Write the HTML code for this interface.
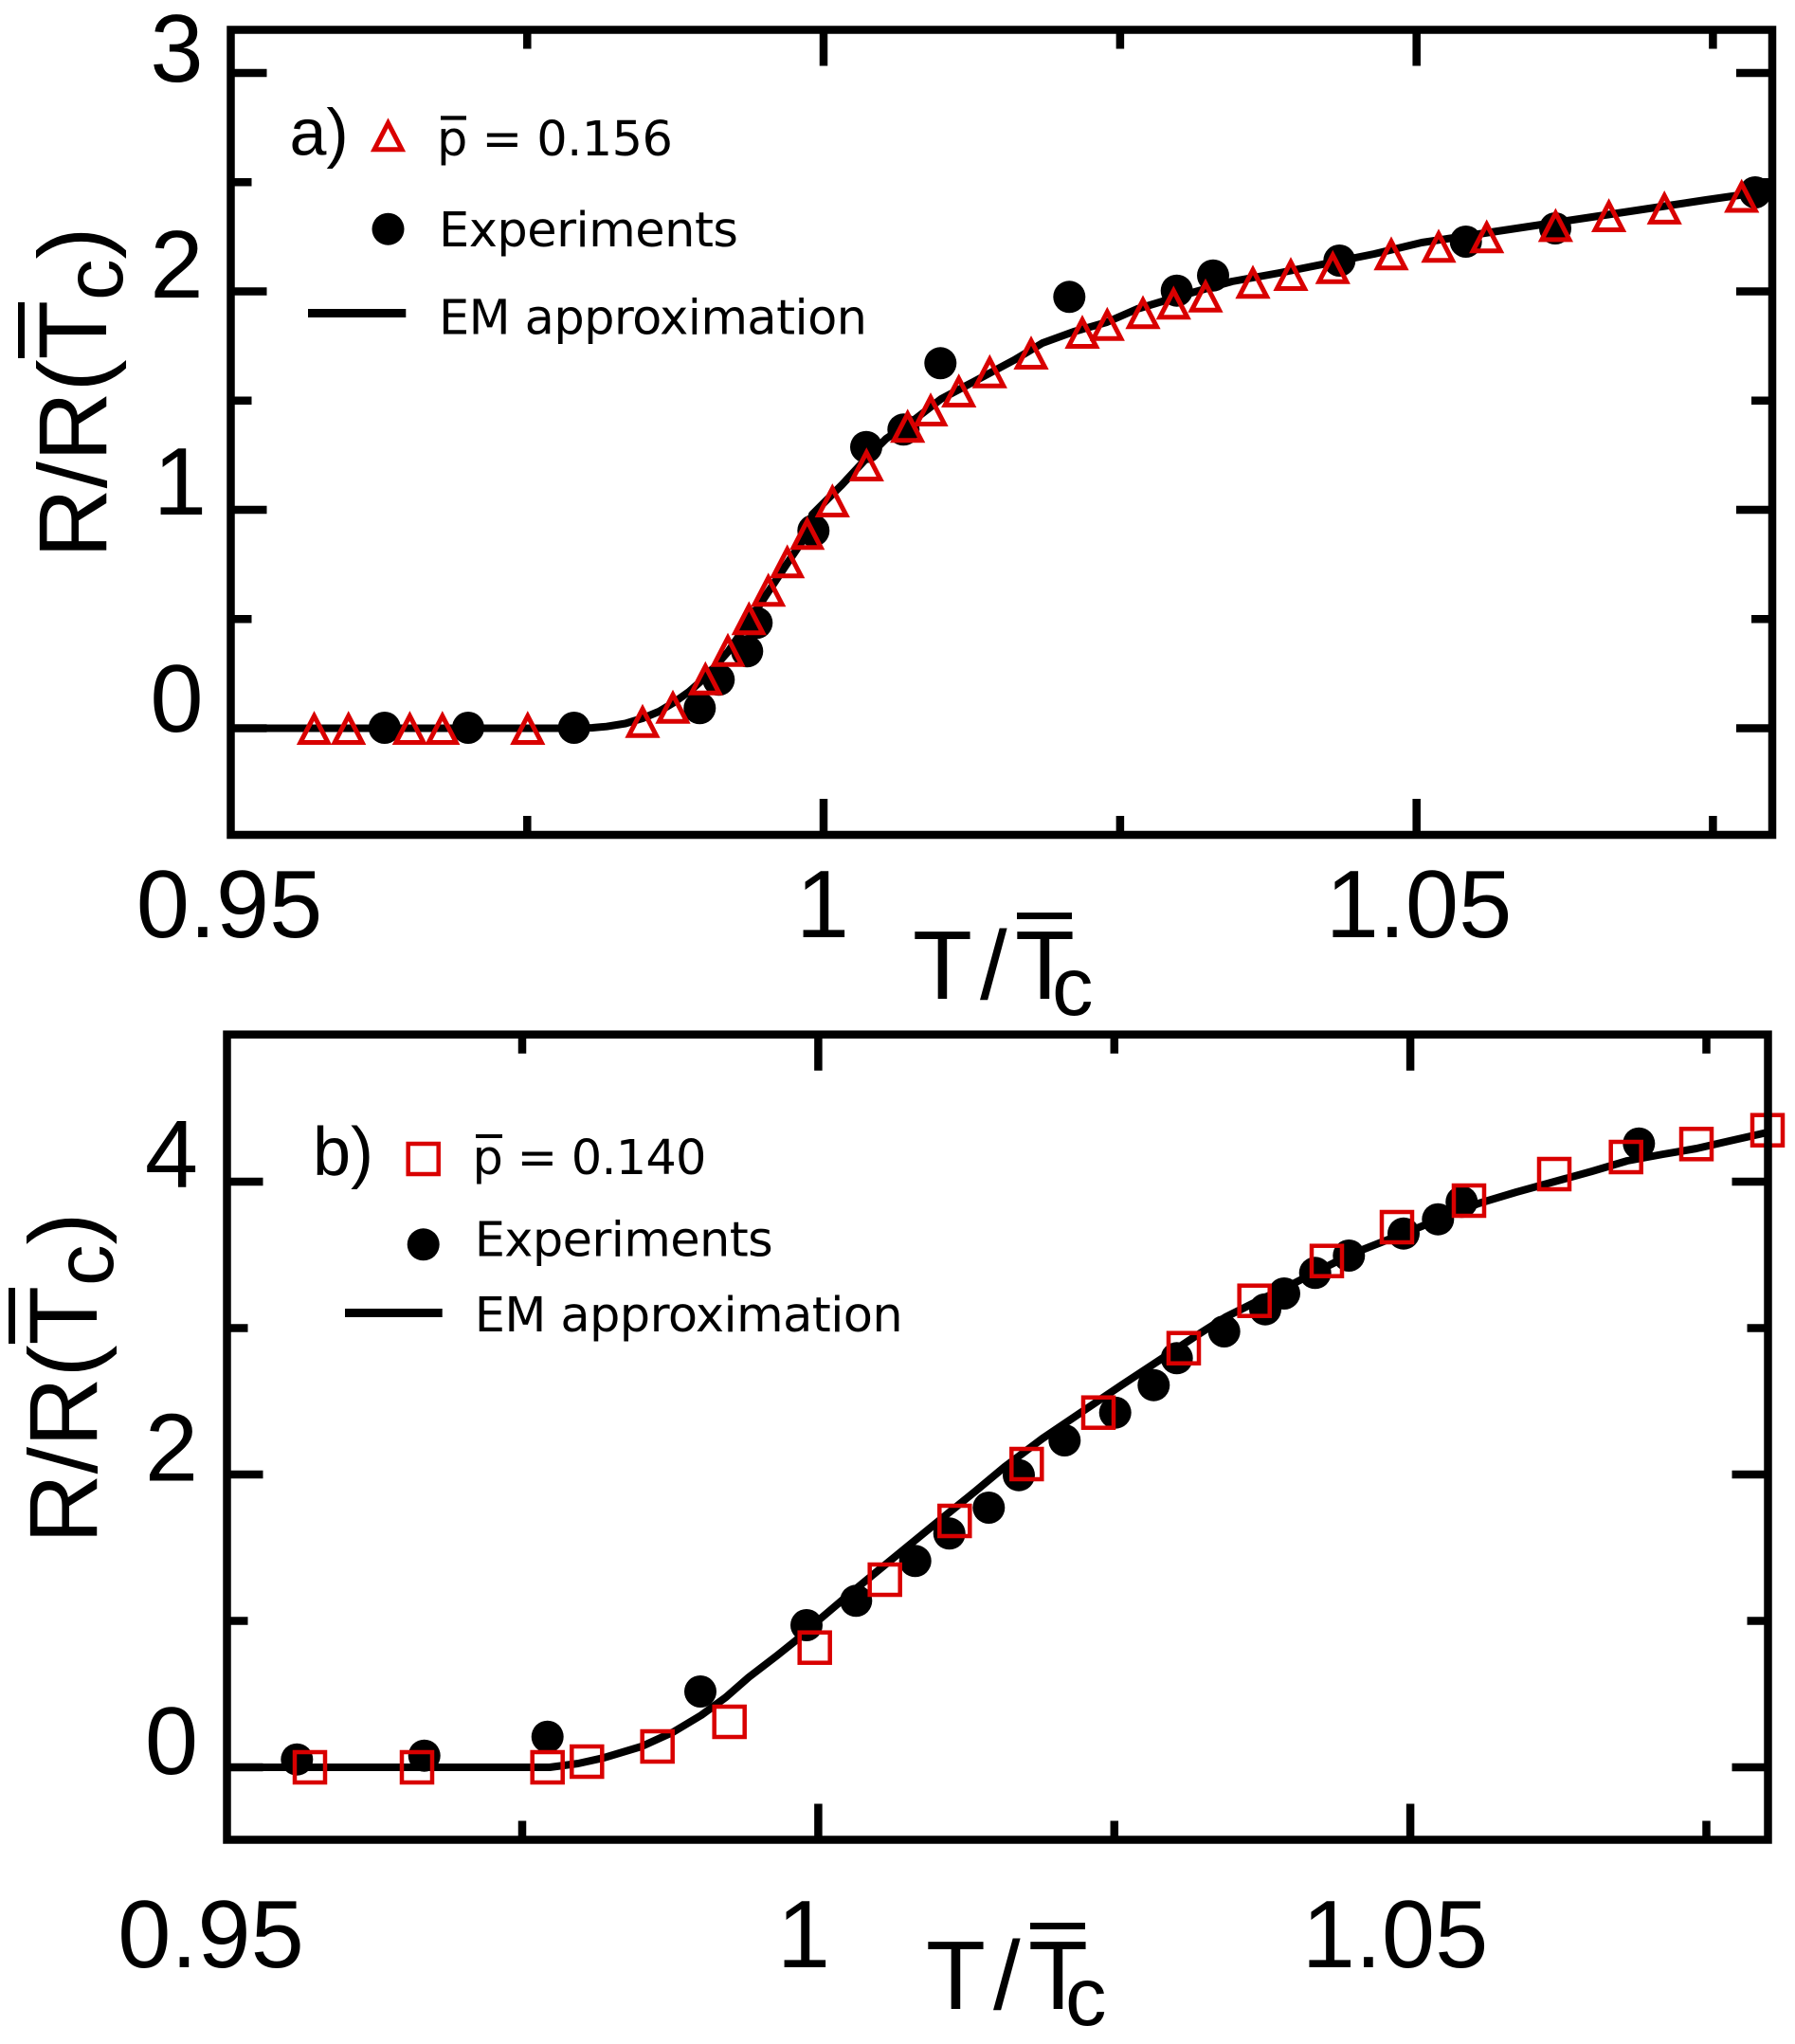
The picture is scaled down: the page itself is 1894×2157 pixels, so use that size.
<!DOCTYPE html>
<html><head><meta charset="utf-8">
<style>
html,body{margin:0;padding:0;background:#fff}
svg{display:block}
.tk{font-family:"Liberation Sans",Arial,sans-serif;font-size:101px;fill:#000}
.lg{font-family:"DejaVu Sans","Liberation Sans",sans-serif;font-size:51px;fill:#000}
.lab{font-family:"Liberation Sans",Arial,sans-serif;fill:#000}
</style></head>
<body>
<svg width="1894" height="2157" viewBox="0 0 1894 2157" xmlns="http://www.w3.org/2000/svg">
<defs>
<path id="tri" d="M0,-12.5 L14.5,15.5 L-14.5,15.5 Z" fill="none" stroke="#d90000" stroke-width="5"/>
<rect id="sq" x="-16" y="-16" width="32" height="32" fill="none" stroke="#d90000" stroke-width="4.5"/>
<circle id="dot" r="17" fill="#000"/>
</defs>
<rect width="1894" height="2157" fill="#fff"/>

<!-- ================= PANEL A ================= -->
<g>
<use href="#dot" x="405.8" y="768"/><use href="#dot" x="494" y="768"/><use href="#dot" x="605.7" y="768"/>
<use href="#dot" x="738.3" y="747.3"/><use href="#dot" x="758.3" y="717.3"/><use href="#dot" x="788.3" y="687.3"/>
<use href="#dot" x="798.3" y="657.3"/><use href="#dot" x="858.3" y="560"/><use href="#dot" x="914" y="471.7"/>
<use href="#dot" x="953.3" y="453.3"/><use href="#dot" x="992.3" y="383.3"/><use href="#dot" x="1128.3" y="313.3"/>
<use href="#dot" x="1241.7" y="306.7"/><use href="#dot" x="1280" y="290.7"/><use href="#dot" x="1413.3" y="275"/>
<use href="#dot" x="1546.7" y="255"/><use href="#dot" x="1641" y="241"/><use href="#dot" x="1852" y="203"/>
</g>
<polyline fill="none" stroke="#000" stroke-width="8" stroke-linejoin="round" points="245,768.5 600,768.5 625,768 640,766.7 660,763.5 678,758 695,751 710,742 727,730 744,715 768,688 790,656 811,624 831,594 852,563 857,543 888,512 914,484 935,463 962,445 993,421 1027,403 1070,380 1100,362 1133,350 1168,340 1200,326 1250,311 1300,297 1350,288 1400,278 1450,268 1500,256 1560,247 1620,238 1680,229 1740,220 1800,211 1870,201"/>
<g>
<use href="#tri" x="331.5" y="768"/><use href="#tri" x="367.7" y="768"/><use href="#tri" x="432.4" y="768"/>
<use href="#tri" x="466.8" y="768"/><use href="#tri" x="556.8" y="768"/><use href="#tri" x="678" y="760.7"/>
<use href="#tri" x="710" y="745.7"/><use href="#tri" x="744.3" y="715.7"/><use href="#tri" x="768" y="685.7"/>
<use href="#tri" x="790.3" y="652.3"/><use href="#tri" x="810.7" y="622.3"/><use href="#tri" x="830.7" y="592.3"/>
<use href="#tri" x="851.7" y="562.3"/><use href="#tri" x="878.3" y="528"/><use href="#tri" x="914.3" y="490"/>
<use href="#tri" x="957.7" y="449.3"/><use href="#tri" x="982" y="432"/><use href="#tri" x="1011.7" y="412"/>
<use href="#tri" x="1044.3" y="391.7"/><use href="#tri" x="1088" y="372"/><use href="#tri" x="1142" y="350"/>
<use href="#tri" x="1168.3" y="341.7"/><use href="#tri" x="1206" y="329.3"/><use href="#tri" x="1238.3" y="319.3"/>
<use href="#tri" x="1272" y="311.7"/><use href="#tri" x="1322" y="297.3"/><use href="#tri" x="1362" y="289"/>
<use href="#tri" x="1406.3" y="281.7"/><use href="#tri" x="1468" y="267.3"/><use href="#tri" x="1518" y="259.3"/>
<use href="#tri" x="1568.7" y="249.3"/><use href="#tri" x="1641.4" y="237.4"/><use href="#tri" x="1697.6" y="227"/>
<use href="#tri" x="1756.2" y="218.9"/><use href="#tri" x="1837.7" y="206.5"/>
</g>
<g stroke="#000" stroke-width="8.5" fill="none" stroke-linecap="butt">
<rect x="243.5" y="31.5" width="1626.5" height="849.5"/>
<path d="M869,881V843 M1494.7,881V843 M869,31.5V69.5 M1494.7,31.5V69.5
M556.3,881V861 M1181.9,881V861 M1807.4,881V861 M556.3,31.5V51.5 M1181.9,31.5V51.5 M1807.4,31.5V51.5
M243.5,77H281.5 M243.5,307.5H281.5 M243.5,538H281.5 M243.5,768.5H281.5
M1870,77H1832 M1870,307.5H1832 M1870,538H1832 M1870,768.5H1832
M243.5,192.25H265.5 M243.5,422.75H265.5 M243.5,653.25H265.5
M1870,192.25H1848 M1870,422.75H1848 M1870,653.25H1848"/>
</g>
<g class="tk" text-anchor="middle">
<text x="242" y="989">0.95</text>
<text x="868" y="989">1</text>
<text x="1497" y="989">1.05</text>
<text x="186.5" y="86">3</text>
<text x="186.5" y="314">2</text>
<text x="190" y="543">1</text>
<text x="186.5" y="772">0</text>
</g>
<g class="lab">
<text x="963" y="1054" font-size="103">T</text>
<text x="1034" y="1054" font-size="103">/</text>
<text x="1071" y="1054" font-size="103">T</text>
<rect x="1073" y="963" width="58" height="7" fill="#000"/>
<text x="1110" y="1071" font-size="87">c</text>
</g>
<g class="lab" transform="translate(112,589) rotate(-90)">
<text x="0" y="0" font-size="102">R/R(<tspan>T</tspan><tspan dy="17" font-size="87">c</tspan><tspan dy="-17">)</tspan></text>
<rect x="211" y="-93" width="59" height="7" fill="#000"/>
</g>
<text class="lab" x="305.5" y="163.3" font-size="70">a)</text>
<use href="#tri" x="409.5" y="142.3"/>
<text class="lg" x="461" y="164" textLength="249" lengthAdjust="spacing">p = 0.156</text>
<rect x="465" y="122.3" width="27" height="4.3" fill="#000"/>
<use href="#dot" x="409.5" y="241.7"/>
<text class="lg" x="463" y="260" textLength="316" lengthAdjust="spacing">Experiments</text>
<line x1="325" y1="330.5" x2="428.3" y2="330.5" stroke="#000" stroke-width="9"/>
<text class="lg" x="463" y="352.7" textLength="452" lengthAdjust="spacing">EM approximation</text>

<!-- ================= PANEL B ================= -->
<g>
<use href="#dot" x="313.3" y="1856.7"/><use href="#dot" x="447.7" y="1852.7"/><use href="#dot" x="577.7" y="1832.7"/>
<use href="#dot" x="739" y="1785"/><use href="#dot" x="851" y="1715"/><use href="#dot" x="903.3" y="1689.3"/>
<use href="#dot" x="965.7" y="1647.3"/><use href="#dot" x="1001.7" y="1618.3"/><use href="#dot" x="1043.3" y="1591"/>
<use href="#dot" x="1075" y="1556.7"/><use href="#dot" x="1123.3" y="1520"/><use href="#dot" x="1176.7" y="1490.7"/>
<use href="#dot" x="1217.3" y="1461.7"/><use href="#dot" x="1241.7" y="1433.3"/><use href="#dot" x="1291.7" y="1405"/>
<use href="#dot" x="1335" y="1381.7"/><use href="#dot" x="1355" y="1365"/><use href="#dot" x="1387.7" y="1343.3"/>
<use href="#dot" x="1423.3" y="1325"/><use href="#dot" x="1481" y="1301.7"/><use href="#dot" x="1517.3" y="1286.7"/>
<use href="#dot" x="1542.3" y="1268.3"/><use href="#dot" x="1729.3" y="1206.7"/>
</g>
<polyline fill="none" stroke="#000" stroke-width="8" stroke-linejoin="round" points="241,1865 580,1865 610,1861 637,1855 677,1843 710,1828 740,1810 766,1791 790,1770 820,1747 845,1727 860,1713 893,1685 927,1657 960,1630 993,1603 1030,1573 1060,1548 1100,1518 1140,1491 1183,1462 1227,1433 1260,1411 1293,1390 1327,1373 1360,1357 1393,1340 1427,1323 1460,1310 1493,1297 1527,1283 1560,1270 1600,1258 1640,1247 1680,1236 1717,1225 1755,1218 1790,1212 1825,1204 1865,1195"/>
<g>
<use href="#sq" x="327" y="1865"/><use href="#sq" x="440" y="1865"/><use href="#sq" x="577.7" y="1865"/>
<use href="#sq" x="619.3" y="1859"/><use href="#sq" x="693.7" y="1843"/><use href="#sq" x="769.7" y="1817"/>
<use href="#sq" x="859.7" y="1738.7"/><use href="#sq" x="933.7" y="1667"/><use href="#sq" x="1007.3" y="1605"/>
<use href="#sq" x="1083.3" y="1545"/><use href="#sq" x="1159" y="1490.7"/><use href="#sq" x="1249" y="1422.7"/>
<use href="#sq" x="1323.7" y="1372.7"/><use href="#sq" x="1400" y="1330.7"/><use href="#sq" x="1474" y="1295"/>
<use href="#sq" x="1550" y="1267"/><use href="#sq" x="1640" y="1239"/><use href="#sq" x="1715.7" y="1221"/>
<use href="#sq" x="1790" y="1207.3"/><use href="#sq" x="1865" y="1192.7"/>
</g>
<g stroke="#000" stroke-width="8.5" fill="none" stroke-linecap="butt">
<rect x="239.5" y="1091.7" width="1626" height="849.8"/>
<path d="M863.4,1941.5V1903.5 M1488.1,1941.5V1903.5 M863.4,1091.7V1129.7 M1488.1,1091.7V1129.7
M551,1941.5V1921.5 M1175.8,1941.5V1921.5 M1800.5,1941.5V1921.5 M551,1091.7V1111.7 M1175.8,1091.7V1111.7 M1800.5,1091.7V1111.7
M239.5,1247H277.5 M239.5,1556H277.5 M239.5,1865H277.5
M1865.5,1247H1827.5 M1865.5,1556H1827.5 M1865.5,1865H1827.5
M239.5,1401.5H261.5 M239.5,1710.5H261.5
M1865.5,1401.5H1843.5 M1865.5,1710.5H1843.5"/>
</g>
<g class="tk" text-anchor="middle">
<text x="222.5" y="2076">0.95</text>
<text x="848" y="2076">1</text>
<text x="1472" y="2076">1.05</text>
<text x="181" y="1253">4</text>
<text x="181" y="1562.5">2</text>
<text x="181" y="1872">0</text>
</g>
<g class="lab">
<text x="977" y="2120" font-size="103">T</text>
<text x="1048" y="2120" font-size="103">/</text>
<text x="1085" y="2120" font-size="103">T</text>
<rect x="1087" y="2029" width="58" height="7" fill="#000"/>
<text x="1124" y="2137" font-size="87">c</text>
</g>
<g class="lab" transform="translate(102,1629) rotate(-90)">
<text x="0" y="0" font-size="102">R/R(<tspan>T</tspan><tspan dy="17" font-size="87">c</tspan><tspan dy="-17">)</tspan></text>
<rect x="211" y="-93" width="59" height="7" fill="#000"/>
</g>
<text class="lab" x="330" y="1240" font-size="72">b)</text>
<use href="#sq" x="446.7" y="1223"/>
<text class="lg" x="498.5" y="1239" textLength="247" lengthAdjust="spacing">p = 0.140</text>
<rect x="502" y="1197" width="28" height="4" fill="#000"/>
<use href="#dot" x="446.7" y="1313.3"/>
<text class="lg" x="500.7" y="1325.7" textLength="315" lengthAdjust="spacing">Experiments</text>
<line x1="364" y1="1385.5" x2="466.7" y2="1385.5" stroke="#000" stroke-width="9"/>
<text class="lg" x="500.7" y="1405" textLength="452" lengthAdjust="spacing">EM approximation</text>
</svg>
</body></html>
